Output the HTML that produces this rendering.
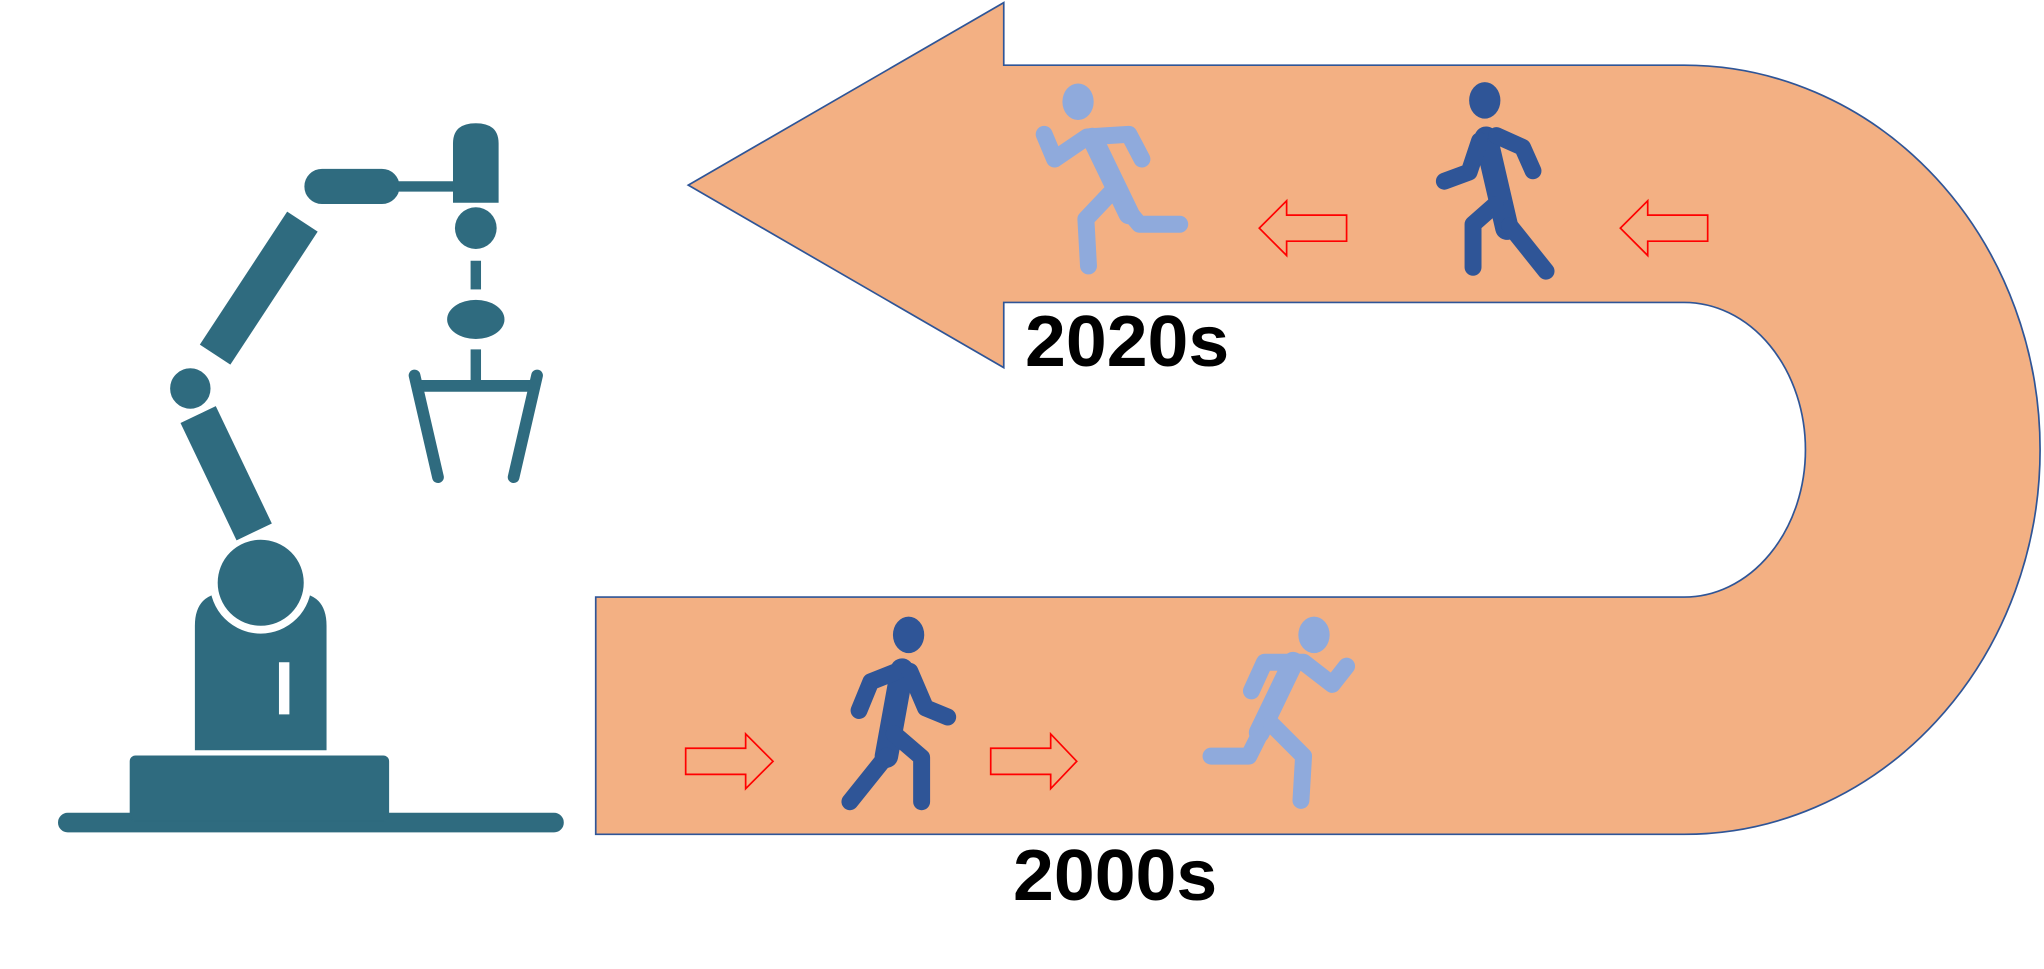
<!DOCTYPE html>
<html><head><meta charset="utf-8"><style>
html,body{margin:0;padding:0;background:#fff;width:2044px;height:969px;overflow:hidden;position:relative}
svg{display:block;position:absolute;left:0;top:0}
.fig{fill:none;stroke-linecap:round;stroke-linejoin:round;stroke-width:13}
.lbl{position:absolute;font-family:"Liberation Sans",sans-serif;font-weight:bold;font-size:72px;line-height:72px;color:#000;transform-origin:0 0;transform:scaleX(1.02);white-space:nowrap}
</style></head><body>
<svg width="2044" height="969" viewBox="0 0 1568 743.3" xmlns="http://www.w3.org/2000/svg">
  <g fill="#2f6b7f" stroke="#2f6b7f">
    <rect x="45" y="624" width="387" height="14" rx="7"/>
    <rect x="100" y="580" width="198" height="50" rx="4"/>
    <path d="M150 575 L150 480 Q150 455 175 455 L225 455 Q250 455 250 480 L250 575 Z"/>
    <circle cx="200" cy="447" r="36" stroke="#fff" stroke-width="6"/>
    <line x1="152" y1="318" x2="195" y2="408" stroke-width="30"/>
    <circle cx="146" cy="298" r="18" stroke="#fff" stroke-width="5"/>
    <line x1="165" y1="272" x2="232" y2="170" stroke-width="28"/>
    <rect x="234" y="130" width="72" height="26" rx="13"/>
    <line x1="305" y1="143" x2="352" y2="143" stroke-width="8"/>
    <path d="M348 155 L348 110 Q348 95 365 95 Q382 95 382 110 L382 155 Z"/>
    <circle cx="365" cy="175" r="16" stroke="none"/>
    <rect x="361" y="200" width="8" height="22" stroke="none"/>
    <ellipse cx="365" cy="245" rx="22" ry="15" stroke="none"/>
    <rect x="361" y="268" width="8" height="24" stroke="none"/>
    <line x1="318" y1="296" x2="412" y2="296" stroke-width="9"/>
    <line x1="318" y1="288" x2="336" y2="366" stroke-width="9" stroke-linecap="round"/>
    <line x1="412" y1="288" x2="394" y2="366" stroke-width="9" stroke-linecap="round"/>
    <rect x="214" y="508" width="8" height="40" fill="#fff" stroke="none"/>
  </g>
  <path fill="#f3b083" stroke="#2f5597" stroke-width="1.3"
    d="M528 142 L770 2 L770 50 L1292 50 A273 295 0 0 1 1565 345 L1565 345 A273 295 0 0 1 1292 640 L457 640 L457 458 L1292 458 A93 113 0 0 0 1385 345 L1385 345 A93 113 0 0 0 1292 232 L770 232 L770 282 Z"/>
  <g fill="none" stroke="#ff0000" stroke-width="1.3">
    <path d="M526 574 L572 574 L572 563 L593 584 L572 605 L572 594 L526 594 Z"/>
  </g>
  <g fill="none" stroke="#ff0000" stroke-width="1.3">
    <path d="M760 574 L806 574 L806 563 L826 584 L806 605 L806 594 L760 594 Z"/>
  </g>
  <g fill="none" stroke="#ff0000" stroke-width="1.3">
    <path d="M1033 165 L987 165 L987 154 L966 175 L987 196 L987 185 L1033 185 Z"/>
  </g>
  <g fill="none" stroke="#ff0000" stroke-width="1.3">
    <path d="M1310 165 L1264 165 L1264 154 L1243 175 L1264 196 L1264 185 L1310 185 Z"/>
  </g>
  <g class="fig" stroke="#2f5597">
    <ellipse cx="697" cy="487" rx="12" ry="14" fill="#2f5597" stroke="none"/>
    <path d="M692 514 L680 580" stroke-width="18"/>
    <path d="M688 515 L668 523 L659 545"/>
    <path d="M698 515 L710 543 L727 550"/>
    <path d="M680 580 L652 615"/>
    <path d="M686 563 L707 581 L707 615"/>
  </g>
  <g class="fig" stroke="#8faadc">
    <ellipse cx="1008" cy="487" rx="12" ry="14" fill="#8faadc" stroke="none"/>
    <path d="M960 530 L970 508 L1000 508 L1022 525 L1033 511"/>
    <path d="M992 508 L966 562" stroke-width="16"/>
    <path d="M968 560 L958 580 L929 580"/>
    <path d="M975 555 L1000 580 L998 614"/>
  </g>
  <g class="fig" stroke="#8faadc">
    <ellipse cx="827" cy="78" rx="12" ry="14" fill="#8faadc" stroke="none"/>
    <path d="M801 103 L809 122 L834 105 L866 103 L876 122"/>
    <path d="M838 106 L866 164" stroke-width="16"/>
    <path d="M864 160 L874 172 L905 172"/>
    <path d="M852 148 L833 168 L835 204"/>
  </g>
  <g class="fig" stroke="#2f5597">
    <ellipse cx="1139" cy="77" rx="12" ry="14" fill="#2f5597" stroke="none"/>
    <path d="M1140 106 L1156 175" stroke-width="18"/>
    <path d="M1135 108 L1127 132 L1108 139"/>
    <path d="M1148 104 L1168 113 L1176 131"/>
    <path d="M1147 157 L1130 172 L1130 205"/>
    <path d="M1158 173 L1186 208"/>
  </g>
</svg>
<div class="lbl" style="left:1025px;top:306px">2020s</div>
<div class="lbl" style="left:1013px;top:840px">2000s</div>
</body></html>
